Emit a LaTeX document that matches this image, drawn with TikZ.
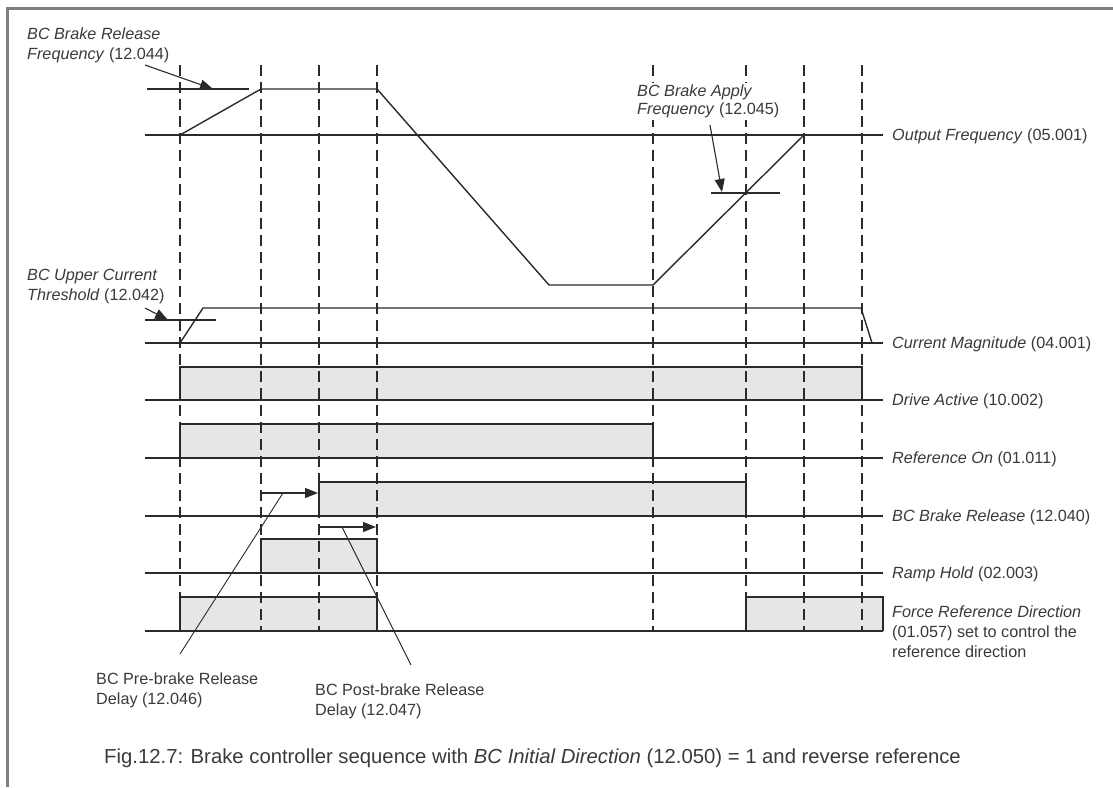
\documentclass[tikz,border=0pt]{standalone}
\usepackage{fontspec}
\setmainfont{Liberation Sans}
\usetikzlibrary{arrows.meta}
\definecolor{ln}{HTML}{2A2A2A}
\definecolor{txt}{HTML}{3A3A3A}
\definecolor{boxfill}{HTML}{E6E6E6}
\definecolor{framec}{HTML}{808080}
\begin{document}
\begin{tikzpicture}[x=1pt,y=-1pt,
  sig/.style={draw=ln, line width=1.4pt},
  boxline/.style={draw=ln, line width=1.9pt},
  gridline/.style={draw=ln, line width=1.2pt, dash pattern=on 11pt off 6pt},
  lbl/.style={inner sep=0pt, text=txt, font=\fontsize{16.2}{20}\selectfont, align=left},
  ptr/.style={draw=ln, line width=1.1pt, -{Triangle[length=13pt,width=10pt]}},
  lead/.style={draw=ln, line width=0.9pt},
]
\useasboundingbox (0,0) rectangle (1113,787);
% frame
\draw[framec, line width=3pt] (7.5,787) -- (7.5,8.5) -- (1113,8.5);

% box fills
\fill[boxfill] (180,367) rectangle (862,400);
\fill[boxfill] (180,424) rectangle (653,458);
\fill[boxfill] (319,482) rectangle (746,516);
\fill[boxfill] (261,539) rectangle (377,573);
\fill[boxfill] (180,597) rectangle (377,631);
\fill[boxfill] (746,597) rectangle (883,631);

% dashed time markers
\foreach \x in {180,261,319,377,653,746,804,862}
  \draw[gridline] (\x,65) -- (\x,631);

% baselines
\foreach \y in {135,343,400,458,516,573,631}
  \draw[sig] (145,\y) -- (883,\y);

% output frequency
\draw[sig] (147,89) -- (249,89);
\draw[sig] (711,193) -- (780,193);
\draw[sig, line join=round] (180,135) -- (261,89) -- (377,89) -- (549,285) -- (653,285) -- (804,135);

% current magnitude
\draw[sig] (145,320) -- (216,320);
\draw[sig, line join=round] (180,343) -- (203,308) -- (861,308) -- (872,343);

% logic boxes
\draw[boxline] (180,400) -- (180,367) -- (862,367) -- (862,400);
\draw[boxline] (180,458) -- (180,424) -- (653,424) -- (653,458);
\draw[boxline] (319,516) -- (319,482) -- (746,482) -- (746,516);
\draw[boxline] (261,573) -- (261,539) -- (377,539) -- (377,573);
\draw[boxline] (180,631) -- (180,597) -- (377,597) -- (377,631);
\draw[boxline] (746,631) -- (746,597) -- (883,597) -- (883,631);

% coordinates for pointers
\coordinate (relS) at (145,65);
\coordinate (relT) at (213,89);
\coordinate (appS) at (710,125);
\coordinate (appT) at (722,192);
\coordinate (thrS) at (145,308);
\coordinate (thrT) at (168,320);
\coordinate (preS) at (261,493);
\coordinate (preT) at (318,493);
\coordinate (postS) at (319,527);
\coordinate (postT) at (376,527);
\coordinate (preL1) at (283,493);
\coordinate (preL2) at (180,654);
\coordinate (postL1) at (342,527);
\coordinate (postL2) at (411,665);

% labels
\node[lbl, anchor=north west] (lrel) at (27,27.8) {\textit{BC Brake Release}\\\textit{Frequency} (12.044)};
\node[lbl, anchor=north west, fill=white, inner sep=2pt, font=\fontsize{16.2}{18}\selectfont] (lapp) at (635,82.5) {\textit{BC Brake Apply}\\\textit{Frequency} (12.045)};
\node[lbl, anchor=north west] (lthr) at (27,269.2) {\textit{BC Upper Current}\\\textit{Threshold} (12.042)};
\node[lbl, anchor=base west] (lout) at (892,140.5) {\textit{Output Frequency} (05.001)};
\node[lbl, anchor=base west] (lcur) at (892,348.5) {\textit{Current Magnitude} (04.001)};
\node[lbl, anchor=base west] (ldrv) at (892,405.5) {\textit{Drive Active} (10.002)};
\node[lbl, anchor=base west] (lref) at (892,463.5) {\textit{Reference On} (01.011)};
\node[lbl, anchor=base west] (lbrk) at (892,521.5) {\textit{BC Brake Release} (12.040)};
\node[lbl, anchor=base west] (lrmp) at (892,578.5) {\textit{Ramp Hold} (02.003)};
\node[lbl, anchor=north west] (lfrc) at (892,605.2) {\textit{Force Reference Direction}\\(01.057) set to control the\\reference direction};
\node[lbl, anchor=north west] (lpre) at (96,672.5) {BC Pre-brake Release\\Delay (12.046)};
\node[lbl, anchor=north west] (lpost) at (315,683.5) {BC Post-brake Release\\Delay (12.047)};
\node[lbl, anchor=base west, font=\fontsize{20.3}{24}\selectfont] (cap) at (104,763) {Fig.12.7: Brake controller sequence with \textit{BC Initial Direction} (12.050) = 1 and reverse reference};

\draw[ptr] (relS) -- (relT);
\draw[ptr] (appS) -- (appT);
\draw[ptr] (thrS) -- (thrT);
\draw[ptr] (preS) -- (preT);
\draw[ptr] (postS) -- (postT);
\draw[lead] (preL1) -- (preL2);
\draw[lead] (postL1) -- (postL2);
\end{tikzpicture}
\end{document}
